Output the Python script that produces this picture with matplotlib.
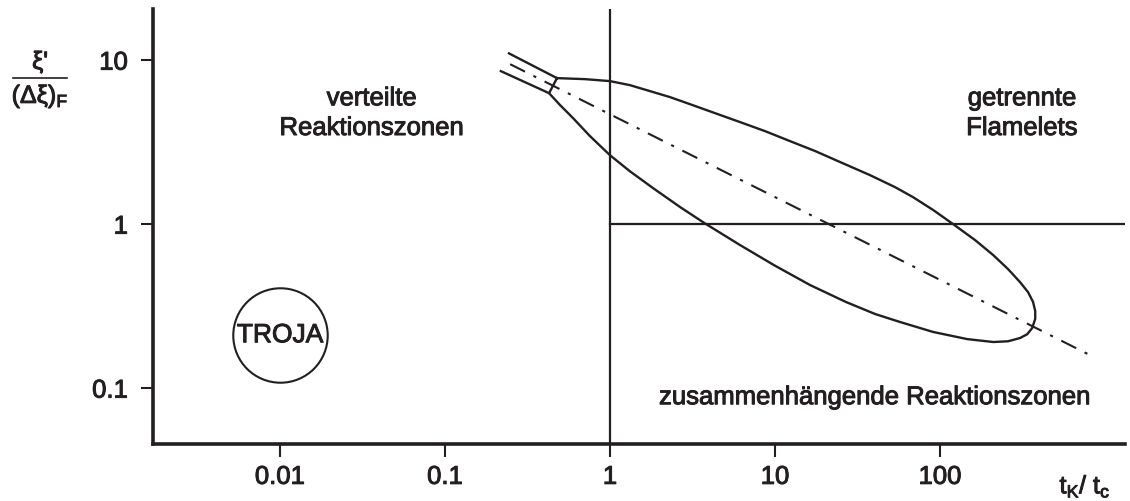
import matplotlib
matplotlib.use("Agg")
import matplotlib.pyplot as plt
import matplotlib.patheffects as pe
from matplotlib.lines import Line2D

plt.rcParams['font.family'] = ['Liberation Sans', 'DejaVu Sans']
plt.rcParams['mathtext.fontset'] = 'custom'
plt.rcParams['mathtext.rm'] = 'Liberation Sans'

INK = '#231f20'
BOLDISH = [pe.withStroke(linewidth=0.7, foreground=INK)]

# outline of the region (t_K/t_c, xi'/(dxi)_F)
# upper edge, round the tip, then back along the lower edge
shape_x = [0.477, 0.705, 1.0, 1.32, 1.75, 2.31, 3.05, 4.33, 6.14, 8.70, 12.3,
           17.5, 24.8, 37.6, 53.4, 68.6, 90.7, 120, 163, 210, 258, 305, 341,
           366, 377, 377, 361, 337, 305, 258, 210,
           146, 90.7, 57.2, 40.4, 26.9, 16.3, 9.86, 6.14, 3.76, 2.66, 1.82,
           1.32, 1.0, 0.756, 0.597, 0.498, 0.427, 0.477]
shape_y = [7.77, 7.66, 7.45, 7.04, 6.47, 5.95, 5.39, 4.75, 4.19, 3.69, 3.21,
           2.79, 2.39, 1.99, 1.68, 1.46, 1.22, 1.0, 0.799, 0.647, 0.532, 0.443,
           0.385, 0.335, 0.295, 0.264, 0.232, 0.213, 0.202, 0.193, 0.191,
           0.199, 0.220, 0.253, 0.283, 0.335, 0.425, 0.562, 0.745, 1.01, 1.27,
           1.66, 2.10, 2.63, 3.44, 4.43, 5.32, 6.29, 7.77]

# the two lines of the "tube" at the upper left end
tube_top_x = [0.244, 0.477]
tube_top_y = [11.0, 7.77]
tube_bot_x = [0.218, 0.427]
tube_bot_y = [8.57, 6.29]

# dash-dot axis of the region
axis_x = [0.248, 789]
axis_y = [9.45, 0.161]

# TROJA point
troja_x = [0.01]
troja_y = [0.21]

xticks = [0.01, 0.1, 1, 10, 100]
xlabels = ['0.01', '0.1', '1', '10', '100']
yticks = [0.1, 1, 10]
ylabels = ['0.1', '1', '10']

fig = plt.figure(figsize=(11.3, 5.02), dpi=100)
ax = fig.add_axes([0.1354, 0.1135, 0.8602, 0.8665])
ax.set_xscale('log')
ax.set_yscale('log')
ax.set_xlim(0.0017, 1320)
ax.set_ylim(0.0456, 20.5)

ax.plot(shape_x, shape_y, color=INK, lw=1.7, solid_joinstyle='round')
ax.plot(tube_top_x, tube_top_y, color=INK, lw=1.7)
ax.plot(tube_bot_x, tube_bot_y, color=INK, lw=1.7)
ax.plot(axis_x, axis_y, color=INK, lw=1.5, dashes=(8, 4.5, 1.5, 4.5))

ax.axvline(1, color=INK, lw=1.6)
ax.plot([1, 1320], [1, 1], color=INK, lw=1.6)

ax.plot(troja_x, troja_y, 'o', ms=68, mfc='none', mec=INK, mew=1.5)
ax.text(troja_x[0], troja_y[0], 'TROJA', fontsize=19, color=INK,
        ha='center', va='center', path_effects=BOLDISH)

ax.text(0.036, 4.75, 'verteilte\nReaktionszonen', fontsize=18.5, color=INK,
        ha='center', va='center', linespacing=1.3, path_effects=BOLDISH)
ax.text(314, 4.75, 'getrennte\nFlamelets', fontsize=18.5, color=INK,
        ha='center', va='center', linespacing=1.3, path_effects=BOLDISH)
ax.text(40.4, 0.088, 'zusammenhängende Reaktionszonen', fontsize=18.5,
        color=INK, ha='center', va='center', path_effects=BOLDISH)

for s in ['top', 'right']:
    ax.spines[s].set_visible(False)
for s in ['left', 'bottom']:
    ax.spines[s].set_linewidth(2.6)
    ax.spines[s].set_color(INK)

ax.set_xticks(xticks)
ax.set_xticklabels(xlabels)
ax.set_yticks(yticks)
ax.set_yticklabels(ylabels)
ax.minorticks_off()
ax.tick_params(axis='both', direction='out', length=9, width=1.5,
               color=INK, labelcolor=INK, labelsize=18.5)
ax.tick_params(axis='x', pad=6)
ax.tick_params(axis='y', pad=9)
for lab in ax.get_xticklabels() + ax.get_yticklabels():
    lab.set_path_effects(BOLDISH)

# axis titles
fig.text(1085 / 1130, 1 - 487 / 502,
         r't$_\mathregular{K}$/ t$_\mathregular{c}$', fontsize=18,
         color=INK, ha='center', va='center', path_effects=BOLDISH)
fig.text(40 / 1130, 1 - 63 / 502, "ξ'", fontsize=18, color=INK,
         ha='center', va='center', path_effects=BOLDISH)
fig.text(40 / 1130, 1 - 97 / 502, r'(Δξ)$_\mathregular{F}$', fontsize=18,
         color=INK, ha='center', va='center', path_effects=BOLDISH)
fig.add_artist(Line2D([13 / 1130, 67 / 1130], [1 - 79 / 502, 1 - 79 / 502],
                      color=INK, lw=1.2))

fig.savefig('out.png', dpi=100)
